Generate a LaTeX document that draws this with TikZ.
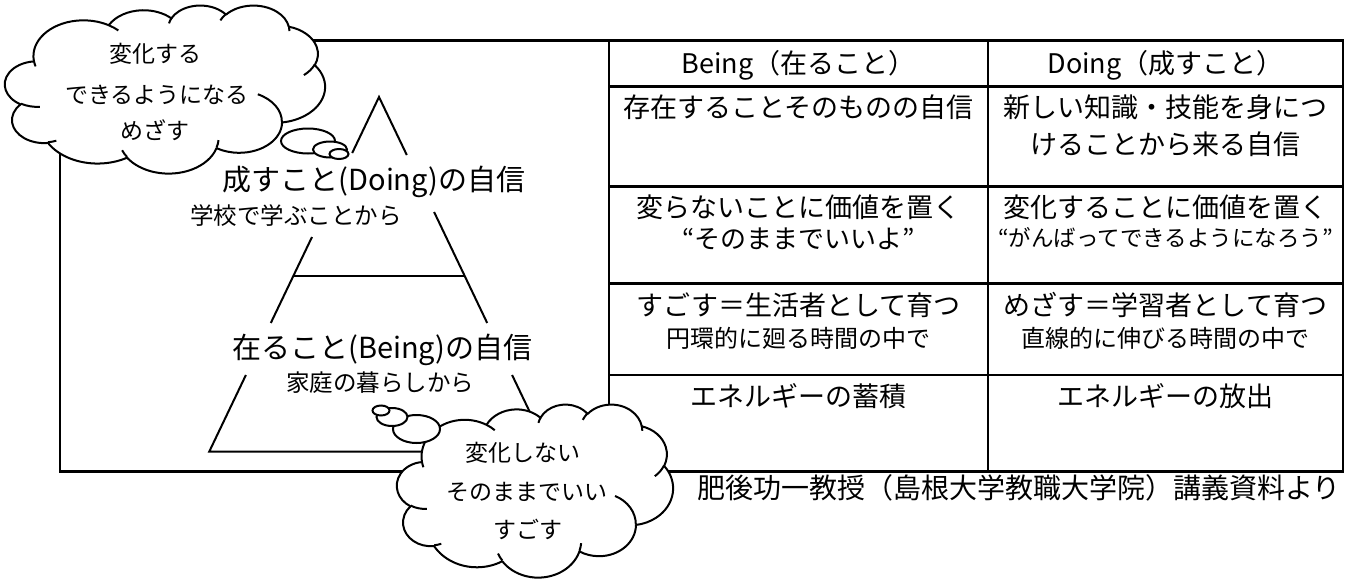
\documentclass[tikz,border=0pt]{standalone}
\usepackage{fontspec}
\setmainfont{Noto Sans CJK JP}
\newcommand\oocalc[4]{%
  \pgfmathsetmacro\ooS{atan2((#1)*sin(#3),(#2)*cos(#3))}%
  \pgfmathsetmacro\ooE{atan2((#1)*sin((#3)+(#4)),(#2)*cos((#3)+(#4)))}%
  \pgfmathsetmacro\ooE{(\ooE<\ooS) ? (\ooE+360) : (\ooE)}%
}
\newcommand\lqq{\makebox[1em][r]{“}}
\newcommand\rqq{\makebox[1em][l]{”}}
\tikzset{
  ooarc/.style n args={4}{insert path={\pgfextra{\oocalc{#1}{#2}{#3}{#4}} arc[start angle=\ooS, end angle=\ooE, x radius=#1, y radius=#2]}},
  boxline/.style={line width=2.7pt},
  pyrline/.style={line width=2pt},
  cloudline/.style={line width=2pt, line join=round},
  bub/.style={draw, line width=2pt, fill=white},
  tx/.style={inner sep=0pt, anchor=base},
  fmain/.style={tx, font=\fontsize{27}{30}\selectfont},
  fquote/.style={tx, font=\fontsize{26}{30}\selectfont},
  fsub/.style={tx, font=\fontsize{24}{28}\selectfont},
  fsmall/.style={tx, font=\fontsize{22.5}{26}\selectfont},
  fpyr/.style={tx, font=\fontsize{29}{32}\selectfont},
  fpyrsub/.style={tx, font=\fontsize{23.5}{27}\selectfont},
  fcloud/.style={tx, font=\fontsize{23}{26}\selectfont},
  fcap/.style={inner sep=0pt, anchor=base east, font=\fontsize{28}{32}\selectfont},
}
\newcommand\officecloud[4]{%
  \begin{scope}[cm={#1,0,0,#2,(#3,#4)},x=1pt,y=1pt]
    \draw[cloudline, fill=white] (3.900,14.370)
      [ooarc={6.753}{9.190}{-190.4875}{123.7805}]
      [ooarc={5.333}{7.267}{-144.1024}{89.9452}]
      [ooarc={4.365}{5.945}{-145.8079}{99.7230}]
      [ooarc={4.857}{6.595}{-130.9861}{117.2417}]
      [ooarc={5.333}{7.273}{-78.7089}{109.0269}]
      [ooarc={6.775}{9.220}{-46.2673}{130.2690}]
      [ooarc={5.785}{7.867}{0.6250}{114.0333}]
      [ooarc={6.752}{9.215}{22.4516}{115.1726}]
      [ooarc={7.720}{10.543}{66.2426}{75.7110}]
      [ooarc={4.360}{5.918}{-274.9421}{146.7356}]
      [ooarc={4.345}{5.945}{-246.8285}{152.5189}]
      -- cycle;
    \draw[cloudline]
      (4.693,26.177) [ooarc={4.345}{5.945}{86.7420}{26.4295}]
      (6.928,34.899) [ooarc={4.360}{5.918}{73.6105}{11.4475}]
      (16.478,39.090) [ooarc={6.752}{9.215}{137.6242}{14.0811}]
      (28.827,34.751) [ooarc={6.752}{9.215}{6.4533}{15.9984}]
      (34.129,22.954) [ooarc={5.785}{7.867}{-70.2924}{70.9174}]
      (41.798,15.354) [ooarc={5.333}{7.273}{30.3180}{27.7515}]
      (38.324,5.426) [ooarc={4.857}{6.595}{-13.7443}{14.8589}]
      (29.078,3.952) [ooarc={4.857}{6.595}{-149.1815}{18.1954}]
      (22.141,4.720) [ooarc={4.365}{5.945}{-163.4943}{17.6864}]
      (14.000,5.192) [ooarc={6.753}{9.190}{-66.7070}{12.3194}]
      (4.127,15.789) [ooarc={6.753}{9.190}{157.6544}{11.8582}];
  \end{scope}}
\begin{document}
\begin{tikzpicture}[x=1pt,y=-1pt]
\useasboundingbox (0,0) rectangle (1351,581);
% outer box and table
\draw[boxline] (60,40.7) rectangle (1343,471.7);
\draw[boxline] (609,40.7) -- (609,471.7);
\draw[boxline] (988,40.7) -- (988,471.7);
\foreach \yy in {86.7,186.7,283.3,375} \draw[boxline] (609,\yy) -- (1343,\yy);
% table text
\node[fmain] (hB) at (798.5,73.8) {Being（在ること）};
\node[fmain] (hD) at (1165.5,73.8) {Doing（成すこと）};
\node[fmain] (b1) at (798.5,117.3) {存在することそのものの自信};
\node[fmain] (d1a) at (1165.5,117.3) {新しい知識・技能を身につ};
\node[fmain] (d1b) at (1165.5,154.3) {けることから来る自信};
\node[fmain] (b2a) at (798.5,217.3) {変らないことに価値を置く};
\node[fquote] (b2b) at (798.5,248.9) {\lqq そのままでいいよ\rqq};
\node[fmain] (d2a) at (1165.5,217.3) {変化することに価値を置く};
\node[fsmall] (d2b) at (1165.5,246.6) {\lqq がんばってできるようになろう\rqq};
\node[fmain] (b3a) at (798.5,315.3) {すごす＝生活者として育つ};
\node[fsub] (b3b) at (798.5,347.1) {円環的に廻る時間の中で};
\node[fmain] (d3a) at (1165.5,315.3) {めざす＝学習者として育つ};
\node[fsub] (d3b) at (1165.5,347.1) {直線的に伸びる時間の中で};
\node[fmain] (b4) at (798.5,406.3) {エネルギーの蓄積};
\node[fmain] (d4) at (1165.5,406.3) {エネルギーの放出};
% pyramid
\draw[pyrline] (352.2,153) -- (379,97) -- (406.8,155);
\draw[pyrline] (312.0,237) -- (270.8,323);
\draw[pyrline] (434.1,212) -- (487.2,323);
\draw[pyrline] (245.9,375) -- (209.3,451.5) -- (548.7,451.5) -- (512.1,375);
\draw[pyrline] (293.3,276) -- (464.7,276);
\node[fpyr] (pD) at (374,190) {成すこと(Doing)の自信};
\node[fpyrsub] (pDs) at (296,224) {学校で学ぶことから};
\node[fpyr] (pB) at (382.5,358) {在ること(Being)の自信};
\node[fpyrsub] (pBs) at (380,391.4) {家庭の暮らしから};
% caption
\node[fcap] (cap) at (1341,498.6) {肥後功一教授（島根大学教職大学院）講義資料より};
% cloud 1
\officecloud{7.4074}{-3.8889}{5}{5}
\draw[bub] (308,141) ellipse [x radius=27, y radius=12.5];
\draw[bub] (330,149.5) ellipse [x radius=17, y radius=8];
\draw[bub] (339,154) ellipse [x radius=9.5, y radius=5];
\node[fcloud] (c1a) at (155,62.7) {変化する};
\node[fcloud] (c1b) at (157,103.7) {できるようになる};
\node[fcloud] (c1c) at (155,139.7) {めざす};
% cloud 2
\officecloud{6.3889}{-4.0046}{397}{404}
\draw[bub] (416.5,429) ellipse [x radius=23.5, y radius=14];
\draw[bub] (392,417) ellipse [x radius=15.5, y radius=9];
\draw[bub] (381,410.5) ellipse [x radius=8.5, y radius=5];
\node[fcloud] (c2a) at (523,461.7) {変化しない};
\node[fcloud] (c2b) at (527,500.7) {そのままでいい};
\node[fcloud] (c2c) at (528,538.7) {すごす};
\end{tikzpicture}
\end{document}
